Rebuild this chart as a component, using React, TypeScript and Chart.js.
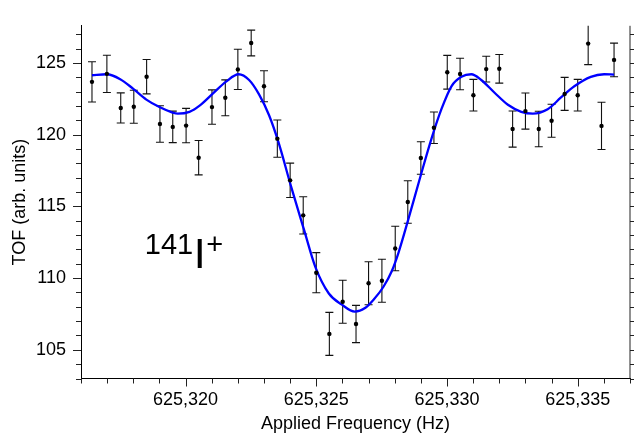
import React, { useEffect, useRef } from 'react';
import { Chart, registerables } from 'chart.js';

Chart.register(...registerables);

// Measured data points (Hz, TOF, ±error)
const freqHz = [
  625316.42, 625316.99, 625317.52, 625318.02, 625318.51, 625319.02, 625319.51, 625320.02,
  625320.5, 625321.01, 625321.52, 625322.0, 625322.51, 625323.0, 625323.51, 625324.0,
  625324.5, 625325.0, 625325.5, 625326.01, 625326.52, 625327.0, 625327.51, 625328.02,
  625328.5, 625329.0, 625329.5, 625330.01, 625330.5, 625331.01, 625331.5, 625332.0,
  625332.51, 625333.0, 625333.51, 625334.0, 625334.5, 625335.0, 625335.4, 625335.91, 625336.39,
];
const tofValues = [
  123.69, 124.25, 121.87, 121.95, 124.05, 120.75, 120.55, 120.64,
  118.4, 121.93, 122.58, 124.56, 126.4, 123.38, 119.73, 116.82,
  114.38, 110.38, 106.11, 108.35, 106.8, 109.64, 109.82, 112.07,
  115.31, 118.38, 120.49, 124.36, 124.24, 122.76, 124.58, 124.6,
  120.4, 121.65, 120.4, 120.98, 122.85, 122.76, 126.36, 120.62, 125.22,
];
const tofErrors = [
  1.4, 1.3, 1.05, 1.15, 1.2, 1.27, 1.1, 1.2,
  1.2, 1.2, 1.25, 1.4, 0.9, 1.08, 1.3, 1.2,
  1.3, 1.4, 1.5, 1.5, 1.3, 1.5, 1.5, 1.55,
  1.48, 1.13, 1.1, 1.18, 1.1, 1.1, 0.9, 1.0,
  1.26, 1.26, 1.24, 1.15, 1.15, 1.1, 1.47, 1.65, 1.17,
];

// Fit curve
const fitFreqHz = [
  625316.42, 625316.98, 625317.5, 625318.0, 625318.5, 625319.0, 625319.5, 625319.7,
  625320.15, 625320.55, 625321.04, 625321.55, 625322.03, 625322.43, 625322.81, 625323.19,
  625323.55, 625324.02, 625324.53, 625324.97, 625325.48, 625325.98, 625326.47, 625326.88,
  625327.19, 625327.57, 625327.89, 625328.14, 625328.52, 625328.97, 625329.41, 625329.79,
  625330.17, 625330.55, 625330.93, 625331.31, 625331.82, 625332.33, 625332.84, 625333.28,
  625333.85, 625334.36, 625334.87, 625335.5, 625336.01, 625336.39,
];
const fitTof = [
  124.15, 124.22, 123.88, 123.2, 122.45, 121.93, 121.55, 121.47,
  121.6, 122.05, 122.87, 123.71, 124.22, 123.82, 122.82, 121.38,
  119.5, 116.49, 113.38, 110.75, 108.93, 108.15, 107.67, 107.93,
  108.49, 109.4, 110.5, 111.75, 114.1, 117.0, 119.75, 121.8,
  123.38, 124.04, 124.22, 123.82, 122.93, 122.09, 121.6, 121.47,
  121.78, 122.6, 123.38, 124.04, 124.22, 124.2,
];

const xMajorTicks = [625320, 625325, 625330, 625335];
const yMajorTicks = [105, 110, 115, 120, 125];
const xMin = 625316;
const xMax = 625337;
const yMin = 103;
const yMax = 127.6;

const xTitle = 'Applied Frequency (Hz)';
const yTitle = 'TOF (arb. units)';
const labelMass = '141';
const labelElement = 'I';
const labelCharge = '+';
const labelAnchor = { x: 625318.5, y: 111.7 };

const FONT = "'Liberation Sans', Arial, Helvetica, sans-serif";

const fmt = (v: number) => String(Math.round(v)).replace(/\B(?=(\d{3})+(?!\d))/g, ',');

export default function App() {
  const ref = useRef<HTMLCanvasElement>(null);

  useEffect(() => {
    const canvas = ref.current;
    if (!canvas) return;

    const decorations = {
      id: 'decorations',
      beforeDatasetsDraw(chart: any) {
        const { ctx, chartArea: ca, scales } = chart;
        const x = scales.x;
        const y = scales.y;
        ctx.save();
        ctx.beginPath();
        ctx.rect(ca.left, ca.top, ca.right - ca.left, ca.bottom - ca.top);
        ctx.clip();
        ctx.strokeStyle = '#111';
        ctx.lineWidth = 1.1;
        freqHz.forEach((f, i) => {
          const px = x.getPixelForValue(f);
          const top = y.getPixelForValue(tofValues[i] + tofErrors[i]);
          const bot = y.getPixelForValue(tofValues[i] - tofErrors[i]);
          ctx.beginPath();
          ctx.moveTo(px, top);
          ctx.lineTo(px, bot);
          ctx.moveTo(px - 4, top);
          ctx.lineTo(px + 4, top);
          ctx.moveTo(px - 4, bot);
          ctx.lineTo(px + 4, bot);
          ctx.stroke();
        });
        ctx.restore();
      },
      afterDraw(chart: any) {
        const { ctx, chartArea: ca, scales } = chart;
        const x = scales.x;
        const y = scales.y;
        ctx.save();
        ctx.strokeStyle = '#222';
        ctx.lineWidth = 1;
        const seg = (x1: number, y1: number, x2: number, y2: number) => {
          ctx.beginPath();
          ctx.moveTo(x1, y1);
          ctx.lineTo(x2, y2);
          ctx.stroke();
        };
        for (let v = xMin; v <= xMax; v++) {
          const px = Math.round(x.getPixelForValue(v)) + 0.5;
          const len = xMajorTicks.includes(v) ? 8 : 5;
          seg(px, ca.bottom, px, ca.bottom + len);
        }
        for (let v = Math.ceil(yMin); v <= Math.floor(yMax); v++) {
          const py = Math.round(y.getPixelForValue(v)) + 0.5;
          const len = yMajorTicks.includes(v) ? 8 : 5;
          seg(ca.left - len, py, ca.left, py);
          seg(ca.right, py, ca.right + len, py);
        }
        seg(ca.right, ca.top, ca.right, ca.bottom);

        // isotope label
        const ax = x.getPixelForValue(labelAnchor.x);
        const ay = y.getPixelForValue(labelAnchor.y);
        ctx.fillStyle = '#000';
        ctx.textBaseline = 'alphabetic';
        ctx.textAlign = 'left';
        ctx.font = `29px ${FONT}`;
        ctx.fillText(labelMass, ax - 1.5, ay + 0.5);
        ctx.font = `43px ${FONT}`;
        ctx.fillText(labelElement, ax + 47.3, ay + 14);
        ctx.font = `29px ${FONT}`;
        ctx.fillText(labelCharge, ax + 59.8, ay + 0.5);
        ctx.restore();
      },
    };

    const chart = new Chart(canvas, {
      type: 'scatter',
      data: {
        datasets: [
          {
            type: 'scatter',
            data: freqHz.map((f, i) => ({ x: f, y: tofValues[i] })),
            pointRadius: 2.2,
            pointBackgroundColor: '#000',
            pointBorderWidth: 0,
            pointBorderColor: '#000',
            order: 0,
          } as any,
          {
            type: 'line',
            data: fitFreqHz.map((f, i) => ({ x: f, y: fitTof[i] })),
            borderColor: '#0000ff',
            borderWidth: 2.3,
            pointRadius: 0,
            fill: false,
            cubicInterpolationMode: 'monotone',
            order: 1,
          } as any,
        ],
      },
      options: {
        responsive: false,
        animation: false,
        devicePixelRatio: 1,
        layout: { padding: { top: 10, right: 1.5, left: 0, bottom: 0 } },
        plugins: { legend: { display: false }, tooltip: { enabled: false } },
        scales: {
          x: {
            type: 'linear',
            min: xMin,
            max: xMax,
            afterFit: (s: any) => {
              s.height = 57.5;
            },
            afterBuildTicks: (s: any) => {
              s.ticks = xMajorTicks.map((v) => ({ value: v }));
            },
            grid: { display: true, drawOnChartArea: false, drawTicks: false },
            border: { display: true, color: '#000', width: 1 },
            ticks: {
              padding: 11,
              color: '#000',
              font: { family: FONT, size: 18 },
              maxRotation: 0,
              autoSkip: false,
              callback: (v: any) => fmt(Number(v)),
            },
            title: {
              display: true,
              text: xTitle,
              color: '#000',
              font: { family: FONT, size: 18 },
              padding: { top: 0, bottom: 1.4 },
            },
          },
          y: {
            type: 'linear',
            min: yMin,
            max: yMax,
            afterFit: (s: any) => {
              s.width = 81;
            },
            afterBuildTicks: (s: any) => {
              s.ticks = yMajorTicks.map((v) => ({ value: v }));
            },
            grid: { display: true, drawOnChartArea: false, drawTicks: false },
            border: { display: true, color: '#000', width: 1 },
            ticks: {
              padding: 15,
              color: '#000',
              font: { family: FONT, size: 18 },
              autoSkip: false,
              callback: (v: any) => String(v),
            },
            title: {
              display: true,
              text: yTitle,
              color: '#000',
              font: { family: FONT, size: 18 },
              padding: { top: 9, bottom: 0 },
            },
          },
        },
      },
      plugins: [decorations],
    } as any);

    return () => chart.destroy();
  }, []);

  return (
    <div style={{ position: 'absolute', left: 0, top: 0, width: 634, height: 436 }}>
      <canvas ref={ref} width={634} height={436} style={{ display: 'block', width: 634, height: 436 }} />
    </div>
  );
}
